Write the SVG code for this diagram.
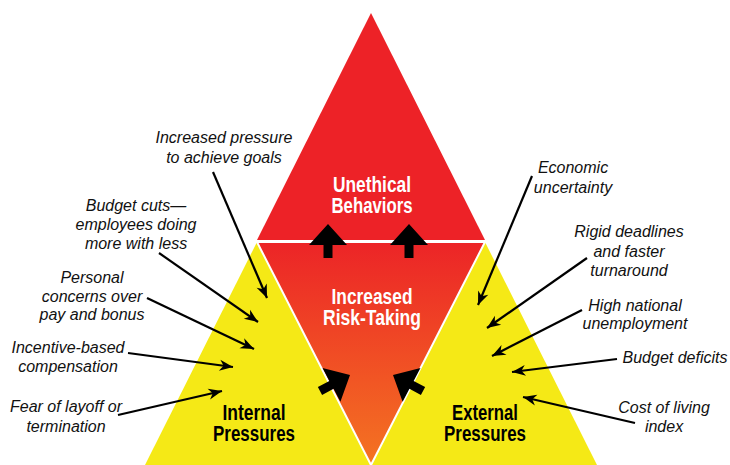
<svg xmlns="http://www.w3.org/2000/svg" width="730" height="465" viewBox="0 0 730 465">
  <defs>
    <linearGradient id="riskGrad" x1="0" y1="242" x2="0" y2="465" gradientUnits="userSpaceOnUse">
      <stop offset="0" stop-color="#EC2427"/>
      <stop offset="1" stop-color="#F47422"/>
    </linearGradient>
    <!-- block arrow pointing up, tip at origin -->
    <path id="blockArrow" d="M0,0 L19,21 L4.5,21 L4.5,34 L-4.5,34 L-4.5,21 L-19,21 Z" fill="#000"/>
    <marker id="head" viewBox="-14 -6 15 12" refX="0" refY="0" markerWidth="15" markerHeight="12" markerUnits="userSpaceOnUse" orient="auto">
      <path d="M0,0 L-13.5,-5.5 L-9.5,0 L-13.5,5.5 Z" fill="#000"/>
    </marker>
    <style>
      .title { font-family: "Liberation Sans", Arial, sans-serif; font-weight: bold; font-size: 21.5px; text-anchor: middle; }
      .white { fill: #fff; }
      .black { fill: #000; }
      .label { font-family: "Liberation Sans", Arial, sans-serif; font-style: italic; font-size: 16px; fill: #111; text-anchor: middle; }
      .conn { stroke: #000; stroke-width: 2.2; fill: none; marker-end: url(#head); }
    </style>
  </defs>

  <rect width="730" height="465" fill="#fff"/>

  <g id="unethical-behaviors">
    <polygon points="371,13 257,240 485,240" fill="#ED2227"/>
    <text class="title white" x="372" y="191.5" textLength="78" lengthAdjust="spacingAndGlyphs">Unethical</text>
    <text class="title white" x="372" y="212.5" textLength="81" lengthAdjust="spacingAndGlyphs">Behaviors</text>
  </g>

  <g id="internal-pressures">
    <polygon points="257,242 371,465 145,465" fill="#F5E916"/>
    <text class="title black" x="254" y="420" textLength="63" lengthAdjust="spacingAndGlyphs">Internal</text>
    <text class="title black" x="254" y="441" textLength="82" lengthAdjust="spacingAndGlyphs">Pressures</text>
  </g>

  <g id="external-pressures">
    <polygon points="485,242 597,465 371,465" fill="#F5E916"/>
    <text class="title black" x="485" y="420" textLength="66" lengthAdjust="spacingAndGlyphs">External</text>
    <text class="title black" x="485" y="441" textLength="82" lengthAdjust="spacingAndGlyphs">Pressures</text>
  </g>

  <g id="increased-risk-taking">
    <polygon points="257,242 485,242 371,465" fill="url(#riskGrad)" stroke="#fff" stroke-width="2" stroke-linejoin="miter"/>
    <text class="title white" x="372" y="303.5" textLength="81" lengthAdjust="spacingAndGlyphs">Increased</text>
    <text class="title white" x="372" y="324.5" textLength="98" lengthAdjust="spacingAndGlyphs">Risk-Taking</text>
  </g>

  <!-- block arrows: pressures feed risk-taking, risk-taking feeds unethical behaviour -->
  <g id="block-arrows">
    <use href="#blockArrow" transform="translate(328,224)"/>
    <use href="#blockArrow" transform="translate(409,224)"/>
    <use href="#blockArrow" transform="translate(350,375) rotate(62)"/>
    <use href="#blockArrow" transform="translate(393,375) rotate(-62)"/>
  </g>

  <g id="internal-labels">
    <text class="label" x="224" y="143">Increased pressure</text>
    <text class="label" x="224" y="163">to achieve goals</text>
    <text class="label" x="136" y="211">Budget cuts—</text>
    <text class="label" x="136" y="230">employees doing</text>
    <text class="label" x="136" y="249">more with less</text>
    <text class="label" x="92" y="283">Personal</text>
    <text class="label" x="92" y="302">concerns over</text>
    <text class="label" x="92" y="320">pay and bonus</text>
    <text class="label" x="68" y="353">Incentive-based</text>
    <text class="label" x="68" y="372">compensation</text>
    <text class="label" x="66" y="412">Fear of layoff or</text>
    <text class="label" x="66" y="432">termination</text>
  </g>

  <g id="external-labels">
    <text class="label" x="573" y="173">Economic</text>
    <text class="label" x="573" y="193">uncertainty</text>
    <text class="label" x="629" y="237">Rigid deadlines</text>
    <text class="label" x="629" y="257">and faster</text>
    <text class="label" x="629" y="276">turnaround</text>
    <text class="label" x="635" y="311">High national</text>
    <text class="label" x="635" y="329">unemployment</text>
    <text class="label" x="675" y="363">Budget deficits</text>
    <text class="label" x="664" y="413">Cost of living</text>
    <text class="label" x="664" y="432">index</text>
  </g>

  <g id="connectors">
    <line class="conn" x1="213" y1="172" x2="267" y2="298"/>
    <line class="conn" x1="159" y1="253" x2="258" y2="322"/>
    <line class="conn" x1="147" y1="298" x2="254" y2="349"/>
    <line class="conn" x1="128" y1="353" x2="233" y2="367"/>
    <line class="conn" x1="118" y1="415" x2="222" y2="391"/>
    <line class="conn" x1="532" y1="176" x2="478" y2="305"/>
    <line class="conn" x1="587" y1="258" x2="487" y2="328"/>
    <line class="conn" x1="582" y1="310" x2="492" y2="356"/>
    <line class="conn" x1="617" y1="359" x2="512" y2="372"/>
    <line class="conn" x1="635" y1="423" x2="523" y2="397"/>
  </g>
</svg>
